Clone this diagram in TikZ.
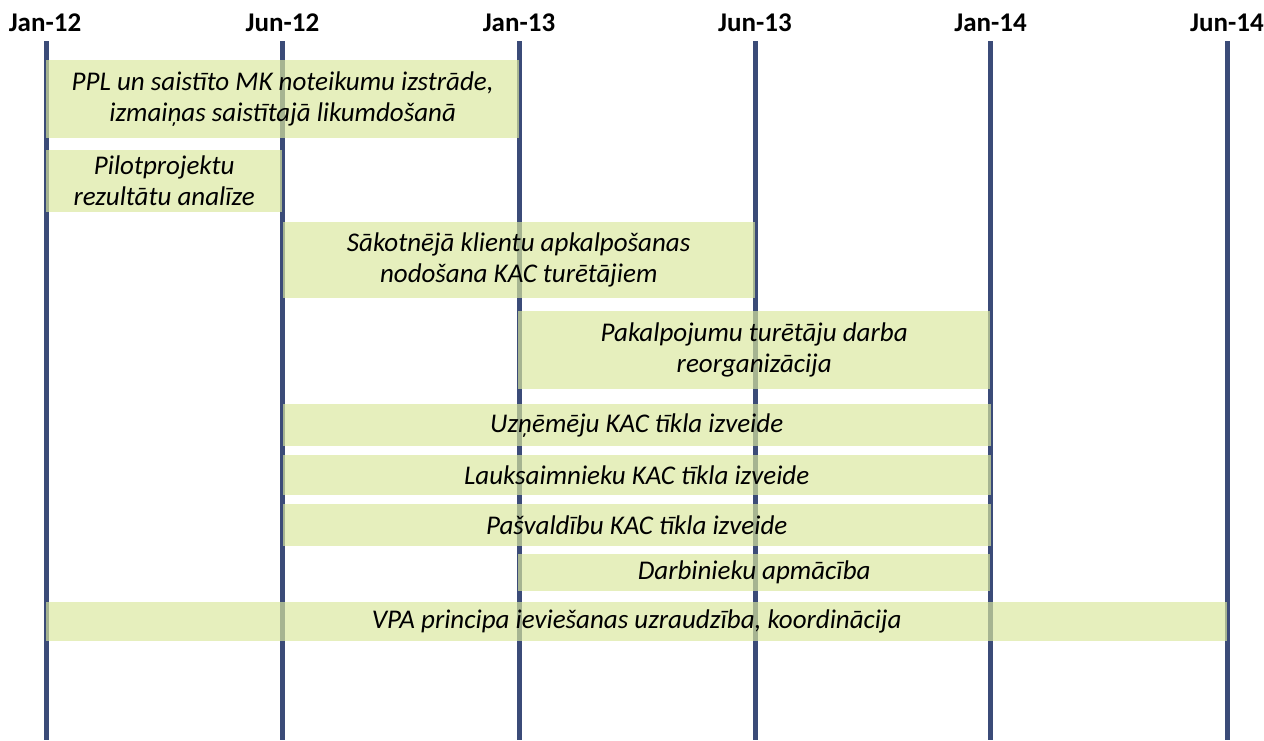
\documentclass[tikz,border=0pt]{standalone}
\usepackage{fontspec}
\setmainfont{Carlito}
\definecolor{gridblue}{RGB}{59,75,120}
\definecolor{barlime}{RGB}{218,231,158}
\tikzset{
  month/.style={font=\fontsize{27}{31}\selectfont\bfseries, inner sep=0pt},
  gridline/.style={draw=gridblue, line width=5pt},
  task/.style={fill=barlime, fill opacity=0.68, text opacity=1, anchor=north west,
    inner sep=0pt, align=center, font=\fontsize{27}{31}\selectfont\itshape}
}
\begin{document}
\begin{tikzpicture}[x=1pt,y=-1pt]
\useasboundingbox (0,0) rectangle (1264,740);
% time axis
\node[month] (jan12) at (45,23) {Jan-12};
\node[month] (jun12) at (282.5,23) {Jun-12};
\node[month] (jan13) at (519,23) {Jan-13};
\node[month] (jun13) at (755,23) {Jun-13};
\node[month] (jan14) at (990.5,23) {Jan-14};
\node[month] (jun14) at (1227,23) {Jun-14};
\coordinate (top0) at (46,41);     \coordinate (bot0) at (46,740);
\coordinate (top1) at (282.5,41);  \coordinate (bot1) at (282.5,740);
\coordinate (top2) at (519,41);    \coordinate (bot2) at (519,740);
\coordinate (top3) at (755,41);    \coordinate (bot3) at (755,740);
\coordinate (top4) at (990.5,41);  \coordinate (bot4) at (990.5,740);
\coordinate (top5) at (1227,41);   \coordinate (bot5) at (1227,740);
\draw[gridline] (top0) -- (bot0);
\draw[gridline] (top1) -- (bot1);
\draw[gridline] (top2) -- (bot2);
\draw[gridline] (top3) -- (bot3);
\draw[gridline] (top4) -- (bot4);
\draw[gridline] (top5) -- (bot5);
% tasks
\node[task, minimum width=473pt, minimum height=78pt] (ppl) at (46,60)
  {PPL un saistīto MK noteikumu izstrāde,\\izmaiņas saistītajā likumdošanā};
\node[task, minimum width=236pt, minimum height=62pt] (pilot) at (46,150)
  {Pilotprojektu\\rezultātu analīze};
\node[task, minimum width=472pt, minimum height=76pt] (sakot) at (282.5,222)
  {Sākotnējā klientu apkalpošanas\\nodošana KAC turētājiem};
\node[task, minimum width=472pt, minimum height=78pt] (pakalp) at (518,311)
  {Pakalpojumu turētāju darba\\reorganizācija};
\node[task, minimum width=708pt, minimum height=42pt] (uznem) at (282.5,404)
  {Uzņēmēju KAC tīkla izveide};
\node[task, minimum width=708pt, minimum height=40pt] (lauks) at (282.5,455)
  {Lauksaimnieku KAC tīkla izveide};
\node[task, minimum width=708pt, minimum height=42pt] (pasv) at (282.5,504)
  {Pašvaldību KAC tīkla izveide};
\node[task, minimum width=472pt, minimum height=37pt] (darb) at (518,554)
  {Darbinieku apmācība};
\node[task, minimum width=1181pt, minimum height=39pt] (vpa) at (46,602)
  {VPA principa ieviešanas uzraudzība, koordinācija};
\end{tikzpicture}
\end{document}
